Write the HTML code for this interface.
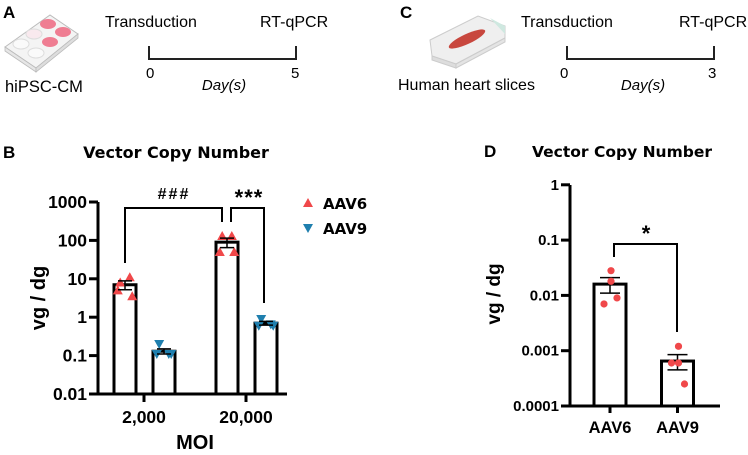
<!DOCTYPE html>
<html><head><meta charset="utf-8"><style>
html,body{margin:0;padding:0;background:#fff;width:748px;height:455px;overflow:hidden}
svg{display:block;font-family:"Liberation Sans",Arial,sans-serif}
.b{font-weight:bold}
.v{font-family:"DejaVu Sans",Verdana,sans-serif;font-weight:bold}
</style></head><body>
<svg id="fig" width="748" height="455" viewBox="0 0 748 455">
<!-- Panel A -->
<text x="3" y="18" class="b" font-size="17">A</text>
<g>
<polygon points="5,47 50,15 78,34 36,68" fill="#f4f4f4" stroke="#bbb" stroke-width="1"/>
<polygon points="5,47 36,68 36,72 5,51" fill="#e6e6e6" stroke="#bbb" stroke-width="0.8"/>
<polygon points="36,68 78,34 78,38 36,72" fill="#ddd" stroke="#bbb" stroke-width="0.8"/>
<ellipse cx="48" cy="24" rx="8" ry="5" fill="#ef7d92"/>
<ellipse cx="63" cy="32" rx="8" ry="5" fill="#ef7d92"/>
<ellipse cx="50" cy="42" rx="8" ry="5" fill="#ef7d92"/>
<ellipse cx="34" cy="34" rx="8" ry="5" fill="#f9e9ee" stroke="#ddd"/>
<ellipse cx="21" cy="44" rx="8" ry="5" fill="#fafafa" stroke="#ddd"/>
<ellipse cx="36" cy="53" rx="8" ry="5" fill="#fafafa" stroke="#ddd"/>
</g>
<text x="5" y="92" font-size="16.5">hiPSC-CM</text>
<text x="105" y="27" font-size="16">Transduction</text>
<text x="260" y="27" font-size="16">RT-qPCR</text>
<path d="M149,46V59H296V46" fill="none" stroke="#222" stroke-width="2"/>
<text x="146" y="78" font-size="15">0</text>
<text x="224" y="90" font-size="15" font-style="italic" text-anchor="middle">Day(s)</text>
<text x="291" y="78" font-size="15">5</text>
<!-- Panel C -->
<text x="400" y="18" class="b" font-size="17">C</text>
<g>
<polygon points="430,40 478,16 505,26 505,38 456,64 432,56" fill="#efefef" stroke="#ccc"/>
<polygon points="432,56 456,64 456,68 432,60" fill="#ddd" stroke="#ccc"/>
<polygon points="456,64 505,38 505,42 456,68" fill="#e4e4e4" stroke="#ccc"/>
<ellipse cx="467" cy="39" rx="20" ry="5" transform="rotate(-25 467 39)" fill="#c8473e"/>
<polygon points="490,18 505,26 505,34" fill="#cfe8e0"/>
</g>
<text x="398" y="90" font-size="16">Human heart slices</text>
<text x="521" y="27" font-size="16">Transduction</text>
<text x="679" y="27" font-size="16">RT-qPCR</text>
<path d="M567,46V59H714V46" fill="none" stroke="#222" stroke-width="2"/>
<text x="560" y="78" font-size="15">0</text>
<text x="643" y="90" font-size="15" font-style="italic" text-anchor="middle">Day(s)</text>
<text x="708" y="78" font-size="15">3</text>
<!-- Panel B static -->
<text x="3" y="158" class="b" font-size="17">B</text>
<text x="176" y="158" class="v" font-size="16" text-anchor="middle">Vector Copy Number</text>
<text transform="translate(45,298) rotate(-90)" class="b" font-size="20" text-anchor="middle">vg / dg</text>
<text x="195" y="449" class="b" font-size="20" text-anchor="middle">MOI</text>
<g id="B"></g>
<g>
<g><polygon points="308,198 313,207 303,207" fill="#f0484a"/><text x="323" y="209" class="v" font-size="15">AAV6</text></g>
<g><polygon points="303,224 313,224 308,233" fill="#1f7fae"/><text x="323" y="234" class="v" font-size="15">AAV9</text></g>
</g>
<!-- Panel D static -->
<text x="484" y="157" class="b" font-size="17">D</text>
<text x="622" y="157" class="v" font-size="15.5" text-anchor="middle">Vector Copy Number</text>
<text transform="translate(500,294) rotate(-90)" class="b" font-size="19" text-anchor="middle">vg / dg</text>
<g id="D"></g>
</svg>
<script>
// Chart B data
const bCategories = ["2,000", "20,000"];
const bTickValues = [0.01, 0.1, 1, 10, 100, 1000];
const bTickLabels = ["0.01", "0.1", "1", "10", "100", "1000"];
const bAav6Means = [7, 90];
const bAav6Sem = [1.8, 25];
const bAav6Points = [[8, 11, 5, 3.5], [130, 130, 50, 50]];
const bAav9Means = [0.13, 0.7];
const bAav9Sem = [0.02, 0.08];
const bAav9Points = [[0.2, 0.11, 0.11, 0.11], [0.9, 0.65, 0.6, 0.6]];
// Chart D data
const dCategories = ["AAV6", "AAV9"];
const dTickValues = [0.0001, 0.001, 0.01, 0.1, 1];
const dTickLabels = ["0.0001", "0.001", "0.01", "0.1", "1"];
const dMeans = [0.016, 0.00065];
const dSem = [0.005, 0.0002];
const dPoints = [[0.028, 0.018, 0.007, 0.009], [0.0012, 0.0006, 0.0006, 0.00025]];

const NS = "http://www.w3.org/2000/svg";
function mk(parent, tag, attrs, text) {
  const e = document.createElementNS(NS, tag);
  for (const k in attrs) e.setAttribute(k, attrs[k]);
  if (text !== undefined) e.textContent = text;
  parent.appendChild(e);
  return e;
}
// Chart B scales
const yB = v => 394 - (Math.log10(v) - Math.log10(0.01)) * 38.4;
const xBgroup = i => 144 + i * 102;
const gB = document.getElementById("B");
[[bAav6Means, bAav6Sem, bAav6Points, -19, "#f0484a", "up", "aav6"], [bAav9Means, bAav9Sem, bAav9Points, 20, "#1f7fae", "down", "aav9"]].forEach(s => {
  const [means, sem, pts, off, col, dir, nm] = s;
  means.forEach((m, i) => {
    const cx = xBgroup(i) + off;
    const bar = mk(gB, "rect", {x: cx - 11, y: yB(m), width: 22, height: 394 - yB(m), fill: "#fff", stroke: "#000", "stroke-width": 3});
    
    
    pts[i].forEach((p, j) => {
      const px = cx + [-6, 6, -9, 9][j] * 0.8;
      const py = yB(p);
      const pt = mk(gB, "polygon", {points: dir === "up" ? `${px},${py-5} ${px+5},${py+4} ${px-5},${py+4}` : `${px-5},${py-4} ${px+5},${py-4} ${px},${py+5}`, fill: col});
      
      
    });
    const eb = mk(gB, "path", {d: `M${cx-7},${yB(m+sem[i])}H${cx+7}M${cx},${yB(m+sem[i])}V${yB(m-sem[i])}M${cx-7},${yB(m-sem[i])}H${cx+7}`, stroke: "#000", "stroke-width": 1.5, fill: "none"});
    
    
  });
});
const axB = mk(gB, "path", {d: "M98,202V394H287", stroke: "#000", "stroke-width": 3, fill: "none"});


bTickValues.forEach((v, i) => {
  mk(gB, "line", {x1: 89, x2: 98, y1: yB(v), y2: yB(v), stroke: "#000", "stroke-width": 3});
  const t = mk(gB, "text", {x: 87, y: yB(v) + 6, "text-anchor": "end", "font-size": 17.5, "font-weight": "bold"}, bTickLabels[i]);
  
  
});
bCategories.forEach((c, i) => {
  mk(gB, "line", {x1: xBgroup(i), x2: xBgroup(i), y1: 394, y2: 402, stroke: "#000", "stroke-width": 3});
  const t = mk(gB, "text", {x: xBgroup(i), y: 423, "text-anchor": "middle", "font-size": 17.5, "font-weight": "bold"}, c);
  
  
});
const br1 = mk(gB, "path", {d: "M125,263V208H222V222", stroke: "#000", "stroke-width": 2, fill: "none"});


const br2 = mk(gB, "path", {d: "M231,222V208H264V303", stroke: "#000", "stroke-width": 2, fill: "none"});


const s1 = mk(gB, "text", {x: 174, y: 199, "text-anchor": "middle", "font-size": 16, "font-weight": "bold", "letter-spacing": "2"}, "###");


const s2 = mk(gB, "text", {x: 249, y: 205, "text-anchor": "middle", "font-size": 22, "font-weight": "bold", "letter-spacing": "1"}, "***");



// Chart D scales
const yD = v => 406 - (Math.log10(v) - Math.log10(0.0001)) * 55.3;
const xD = i => 610 + i * 67.5;
const gD = document.getElementById("D");
dMeans.forEach((m, i) => {
  const cx = xD(i);
  const bar = mk(gD, "rect", {x: cx - 16, y: yD(m), width: 32, height: 406 - yD(m), fill: "#fff", stroke: "#000", "stroke-width": 3});
  
  
  const eb = mk(gD, "path", {d: `M${cx-10},${yD(m+dSem[i])}H${cx+10}M${cx},${yD(m+dSem[i])}V${yD(m-dSem[i])}M${cx-10},${yD(m-dSem[i])}H${cx+10}`, stroke: "#000", "stroke-width": 1.5, fill: "none"});
  
  
  dPoints[i].forEach((p, j) => {
    const c = mk(gD, "circle", {cx: cx + [1, 1, -6, 7][j], cy: yD(p), r: 3.6, fill: "#f0484a"});
    
    
  });
});
const axD = mk(gD, "path", {d: "M570,185V406H720", stroke: "#000", "stroke-width": 3, fill: "none"});


dTickValues.forEach((v, i) => {
  mk(gD, "line", {x1: 561, x2: 570, y1: yD(v), y2: yD(v), stroke: "#000", "stroke-width": 3});
  const t = mk(gD, "text", {x: 559, y: yD(v) + 5, "text-anchor": "end", "font-size": 15, "font-weight": "bold"}, dTickLabels[i]);
  
  
});
dCategories.forEach((c, i) => {
  mk(gD, "line", {x1: xD(i), x2: xD(i), y1: 406, y2: 413, stroke: "#000", "stroke-width": 3});
  const t = mk(gD, "text", {x: xD(i), y: 433, "text-anchor": "middle", "font-size": 16.5, "font-weight": "bold"}, c);
  
  
});
const brD = mk(gD, "path", {d: "M614,257V244H677V332", stroke: "#000", "stroke-width": 2, fill: "none"});


const sD = mk(gD, "text", {x: 646, y: 241, "text-anchor": "middle", "font-size": 22, "font-weight": "bold"}, "*");


</script>
</body></html>
